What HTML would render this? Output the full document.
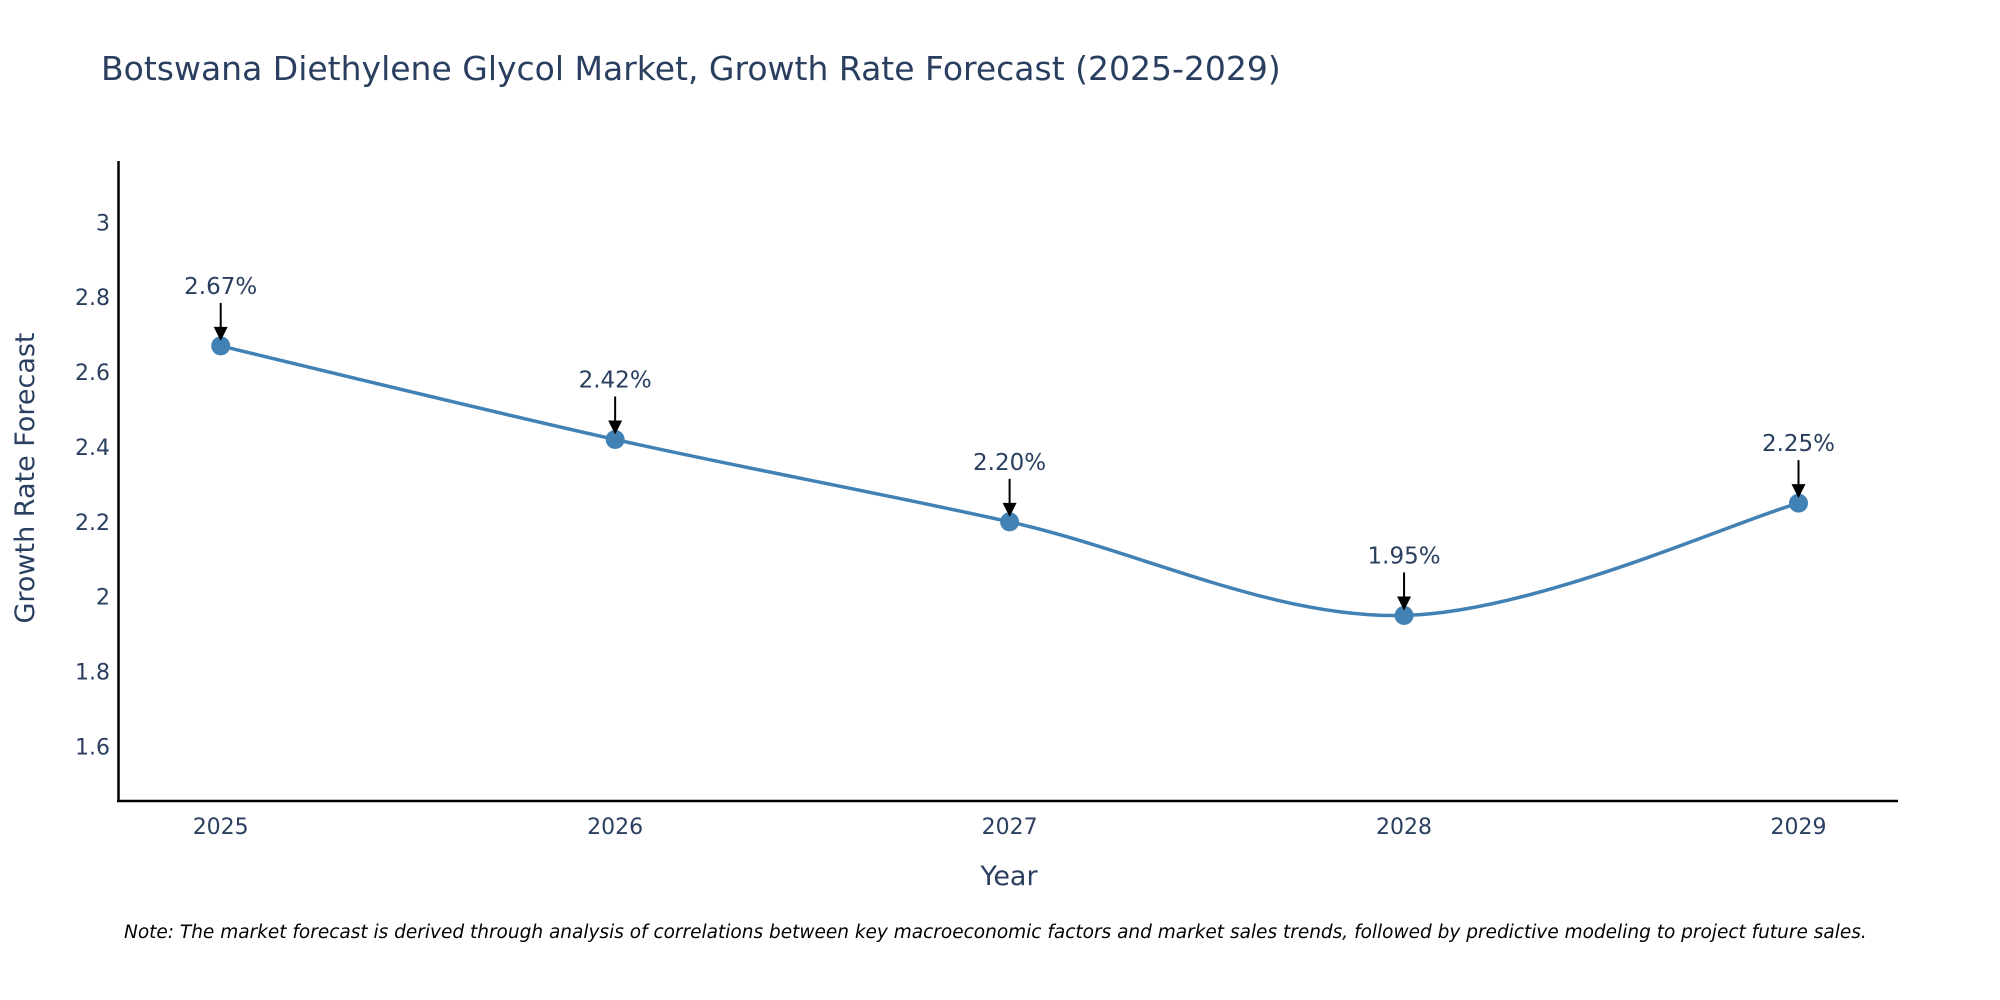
<!DOCTYPE html>
<html><head><meta charset="utf-8">
<style>
html,body{margin:0;padding:0;background:#fff;}
svg{display:block;font-family:"DejaVu Sans","Liberation Sans",sans-serif;}
</style></head>
<body>
<svg id="chart" width="2000" height="1000" viewBox="0 0 2000 1000">
<text x="101" y="80" font-size="33" fill="#2a3f5f">Botswana Diethylene Glycol Market, Growth Rate Forecast (2025-2029)</text>
<g id="yticks"></g>
<g id="xticks"></g>
<line x1="118.5" y1="161" x2="118.5" y2="802" stroke="#000" stroke-width="2.5"/>
<line x1="117" y1="801" x2="1898" y2="801" stroke="#000" stroke-width="2.5"/>
<text transform="translate(34,478) rotate(-90)" text-anchor="middle" font-size="27" fill="#2a3f5f">Growth Rate Forecast</text>
<text x="1009" y="885" text-anchor="middle" font-size="27" fill="#2a3f5f">Year</text>
<g id="series"></g>
<text x="124" y="938" font-size="18.5" font-style="italic" fill="#000">Note: The market forecast is derived through analysis of correlations between key macroeconomic factors and market sales trends, followed by predictive modeling to project future sales.</text>
</svg>
<script>
const years = ["2025","2026","2027","2028","2029"];
const values = [2.67, 2.42, 2.20, 1.95, 2.25];
const labels = ["2.67%","2.42%","2.20%","1.95%","2.25%"];
const yTickVals = [1.6, 1.8, 2, 2.2, 2.4, 2.6, 2.8, 3];
const yTickLabels = ["1.6","1.8","2","2.2","2.4","2.6","2.8","3"];

const NS = "http://www.w3.org/2000/svg";
const x0 = 220.7, x1 = 1798.5;
function xScale(i){ return x0 + (x1 - x0) * i / (years.length - 1); }
const yRef = 746.5, yPerUnit = 374.4;
function yScale(v){ return yRef - (v - 1.6) * yPerUnit; }

const yt = document.getElementById("yticks");
yTickVals.forEach((v, i) => {
  const t = document.createElementNS(NS, "text");
  t.setAttribute("x", 110); t.setAttribute("y", yScale(v) + 8);
  t.setAttribute("text-anchor", "end"); t.setAttribute("font-size", "22"); t.setAttribute("fill", "#2a3f5f");
  t.textContent = yTickLabels[i];
  
  
  yt.appendChild(t);
});
const xt = document.getElementById("xticks");
years.forEach((y, i) => {
  const t = document.createElementNS(NS, "text");
  t.setAttribute("x", xScale(i)); t.setAttribute("y", 834);
  t.setAttribute("text-anchor", "middle"); t.setAttribute("font-size", "22"); t.setAttribute("fill", "#2a3f5f");
  t.textContent = y;
  
  
  xt.appendChild(t);
});

const g = document.getElementById("series");
const pts = values.map((v, i) => [xScale(i), yScale(v)]);
let d = "M" + pts[0][0] + "," + pts[0][1];
for (let i = 0; i < pts.length - 1; i++) {
  const p0 = pts[Math.max(0, i - 1)], p1 = pts[i], p2 = pts[i + 1], p3 = pts[Math.min(pts.length - 1, i + 2)];
  const k = 1 / 6;
  const c1 = [p1[0] + (p2[0] - p0[0]) * k, p1[1] + (p2[1] - p0[1]) * k];
  const c2 = [p2[0] - (p3[0] - p1[0]) * k, p2[1] - (p3[1] - p1[1]) * k];
  d += " C" + c1[0] + "," + c1[1] + " " + c2[0] + "," + c2[1] + " " + p2[0] + "," + p2[1];
}
const path = document.createElementNS(NS, "path");
path.setAttribute("d", d); path.setAttribute("fill", "none");
path.setAttribute("stroke", "#4281b4"); path.setAttribute("stroke-width", "3.5");


g.appendChild(path);

pts.forEach((p, i) => {
  const c = document.createElementNS(NS, "circle");
  c.setAttribute("cx", p[0]); c.setAttribute("cy", p[1]); c.setAttribute("r", 9.5);
  c.setAttribute("fill", "#4281b4");
  
  
  g.appendChild(c);
  const ln = document.createElementNS(NS, "line");
  ln.setAttribute("x1", p[0]); ln.setAttribute("x2", p[0]);
  ln.setAttribute("y1", p[1] - 43); ln.setAttribute("y2", p[1] - 16);
  ln.setAttribute("stroke", "#000"); ln.setAttribute("stroke-width", "2");
  
  
  g.appendChild(ln);
  const ah = document.createElementNS(NS, "polygon");
  ah.setAttribute("points", (p[0]-7)+","+(p[1]-19)+" "+(p[0]+7)+","+(p[1]-19)+" "+p[0]+","+(p[1]-5));
  ah.setAttribute("fill", "#000");
  
  
  g.appendChild(ah);
  const t = document.createElementNS(NS, "text");
  t.setAttribute("x", p[0]); t.setAttribute("y", p[1] - 52);
  t.setAttribute("text-anchor", "middle"); t.setAttribute("font-size", "23"); t.setAttribute("fill", "#2a3f5f");
  t.textContent = labels[i];
  
  
  g.appendChild(t);
});
</script>
</body></html>
